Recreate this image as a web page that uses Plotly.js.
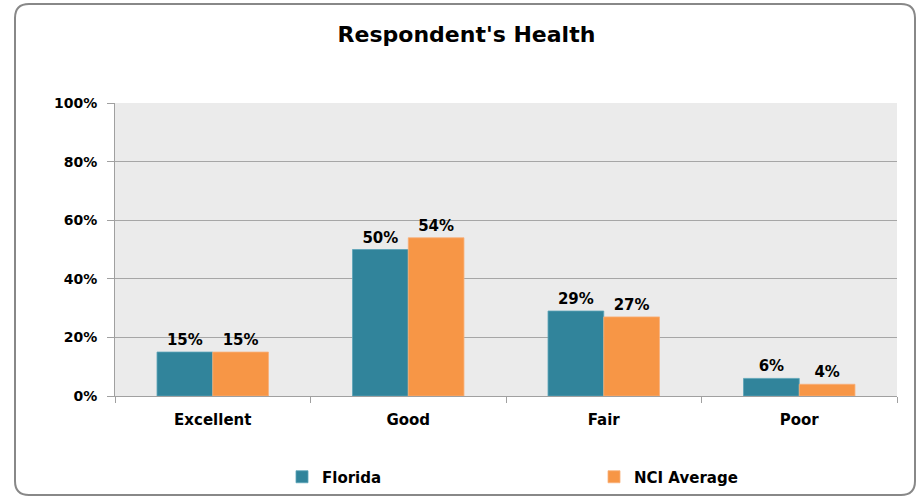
<!DOCTYPE html>
<html>
<head>
<meta charset="utf-8">
<script src="https://cdn.plot.ly/plotly-3.0.1.min.js"></script>
<style>html,body{margin:0;padding:0;background:#fff;}#chart{width:923px;height:501px;}</style>
</head>
<body>
<div id="chart"></div>
<script>
const categories = ["Excellent", "Good", "Fair", "Poor"];
const floridaValues = [15, 50, 29, 6];
const nciValues = [15, 54, 27, 4];
const seriesNames = ["Florida", "NCI Average"];
const yTickValues = [0, 20, 40, 60, 80, 100];
const yTickLabels = ["0%", "20%", "40%", "60%", "80%", "100%"];

const W = 923, H = 501;
const M = {l: 115, r: 26, t: 103, b: 105, autoexpand: false};
const pw = W - M.l - M.r, ph = H - M.t - M.b;
function px(x) { return (x - M.l) / pw; }
function py(y) { return (H - M.b - y) / ph; }

// rounded border of the chart area
const bx0 = 15, by0 = 4, bx1 = 915, by1 = 495, rr = 14;
const rx = rr / pw, ry = rr / ph;
const X0 = px(bx0), X1 = px(bx1), Y0 = py(by1), Y1 = py(by0);
const borderPath =
  `M ${X0 + rx},${Y1} L ${X1 - rx},${Y1} Q ${X1},${Y1} ${X1},${Y1 - ry} ` +
  `L ${X1},${Y0 + ry} Q ${X1},${Y0} ${X1 - rx},${Y0} ` +
  `L ${X0 + rx},${Y0} Q ${X0},${Y0} ${X0},${Y0 + ry} ` +
  `L ${X0},${Y1 - ry} Q ${X0},${Y1} ${X0 + rx},${Y1} Z`;

const font = "'DejaVu Sans', 'Open Sans', sans-serif";

const traces = [
  {
    type: "bar", name: seriesNames[0], x: categories, y: floridaValues,
    marker: {color: "#31849b", line: {color: "#5aa3b8", width: 0.8}},
    text: floridaValues.map(v => v + "%"),
    textposition: "outside", cliponaxis: false,
    textfont: {family: font, size: 15, color: "#000", weight: "bold"},
    hoverinfo: "x+y"
  },
  {
    type: "bar", name: seriesNames[1], x: categories, y: nciValues,
    marker: {color: "#f79646", line: {color: "#f9b07a", width: 0.8}},
    text: nciValues.map(v => v + "%"),
    textposition: "outside", cliponaxis: false,
    textfont: {family: font, size: 15, color: "#000", weight: "bold"},
    hoverinfo: "x+y"
  }
];

const layout = {
  width: W, height: H,
  margin: M,
  paper_bgcolor: "#ffffff",
  plot_bgcolor: "#ebebeb",
  font: {family: font, color: "#000"},
  title: {
    text: "Respondent's Health",
    font: {family: font, size: 22, color: "#000", weight: "bold"},
    x: 0.5054, xanchor: "center", y: 0.932, yanchor: "middle"
  },
  barmode: "group",
  bargap: 0.43,
  bargroupgap: 0,
  showlegend: true,
  legend: {
    orientation: "h",
    x: px(282), xanchor: "left",
    y: py(477), yanchor: "middle",
    entrywidth: 267, entrywidthmode: "pixels",
    font: {family: font, size: 15, color: "#000", weight: "bold"},
    bgcolor: "rgba(0,0,0,0)",
    traceorder: "normal"
  },
  xaxis: {
    type: "category",
    tickson: "boundaries",
    ticks: "outside", ticklen: 6, tickcolor: "#a0a0a0", tickwidth: 1,
    showline: true, linecolor: "#a0a0a0", linewidth: 1,
    showgrid: false, zeroline: false,
    tickfont: {family: font, size: 15, color: "#000", weight: "bold"},
    ticklabelstandoff: 10,
    fixedrange: true
  },
  yaxis: {
    range: [0, 100],
    tickvals: yTickValues,
    ticktext: yTickLabels,
    ticks: "outside", ticklen: 7, tickcolor: "#a0a0a0", tickwidth: 1,
    showline: true, linecolor: "#a0a0a0", linewidth: 1,
    showgrid: true, gridcolor: "#a6a6a6", gridwidth: 1,
    zeroline: false,
    tickfont: {family: font, size: 14, color: "#000", weight: "bold"},
    ticklabelstandoff: 7,
    fixedrange: true
  },
  shapes: [
    {type: "path", xref: "paper", yref: "paper", path: borderPath,
     line: {color: "#888888", width: 2}, fillcolor: "rgba(0,0,0,0)", layer: "below"}
  ]
};

Plotly.newPlot("chart", traces, layout, {displayModeBar: false, staticPlot: true});
</script>
</body>
</html>
